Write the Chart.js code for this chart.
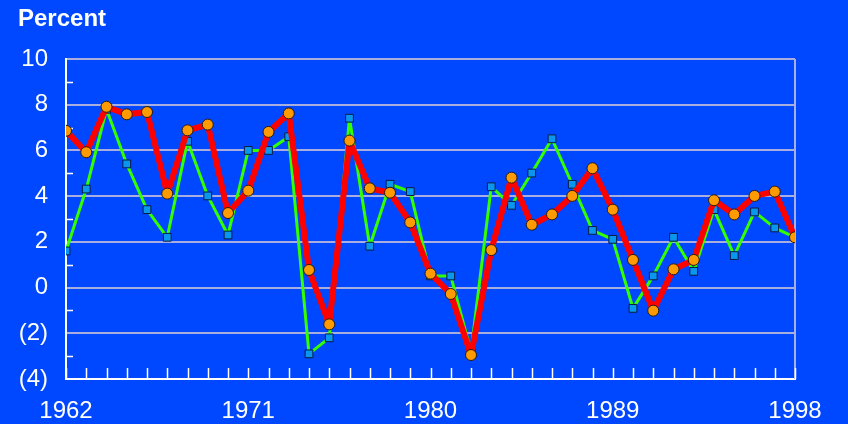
<!DOCTYPE html>
<html>
<head>
<meta charset="utf-8">
<script src="https://cdn.jsdelivr.net/npm/chart.js@4.4.1/dist/chart.umd.min.js"></script>
<style>
    html, body { margin: 0; padding: 0; background: #0048ff; }
    #wrap { position: relative; width: 848px; height: 424px; }
    #unit { position: absolute; left: 18px; top: 4px; color: #fff; font: bold 24px 'Liberation Sans', Arial, sans-serif; }
</style>
</head>
<body>
<div id="wrap">
    <div id="unit">Percent</div>
    <canvas id="chart" width="848" height="424"></canvas>
</div>
<script>
const years = [];
for (let y = 1962; y <= 1998; y++) years.push(y);

const yearLabels = [1962, 1971, 1980, 1989, 1998];

const redSeries = [6.86, 5.92, 7.91, 7.58, 7.68, 4.11, 6.88, 7.13, 3.26, 4.24, 6.81, 7.62, 0.77,
    -1.61, 6.43, 4.34, 4.15, 2.85, 0.61, -0.28, -2.95, 1.64, 4.81, 2.75, 3.2,
    4.01, 5.22, 3.41, 1.21, -1.01, 0.80, 1.21, 3.82, 3.2, 4.01, 4.20, 2.20];

const greenSeries = [1.60, 4.31, 7.8, 5.41, 3.41, 2.20, 6.4, 4.01, 2.30, 6.0, 6.0, 6.6, -2.9,
    -2.2, 7.41, 1.81, 4.52, 4.2, 0.51, 0.51, -2.8, 4.41, 3.6, 5.01, 6.51,
    4.52, 2.5, 2.11, -0.91, 0.51, 2.2, 0.71, 3.41, 1.4, 3.31, 2.61, 2.2];

const FONT = { family: "'Liberation Sans', Arial, sans-serif", size: 24 };
const GRID = '#a8aee0';

// short inward tick marks + top/right frame
const frame = {
    id: 'frame',
    beforeDatasetsDraw(chart) {
        const { ctx, chartArea: a, scales: { x, y } } = chart;
        ctx.save();
        ctx.strokeStyle = GRID;
        ctx.lineWidth = 2;
        ctx.beginPath();
        ctx.moveTo(a.right, a.top);
        ctx.lineTo(a.right, a.bottom);
        ctx.stroke();
        ctx.strokeStyle = '#ffffff';
        ctx.lineWidth = 1.5;
        ctx.beginPath();
        years.forEach((yr) => {
            const px = Math.round(x.getPixelForValue(yr)) + 0.5;
            ctx.moveTo(px, a.bottom);
            ctx.lineTo(px, a.bottom - 11);
        });
        for (let v = -3; v < 10; v += 2) {
            const py = Math.round(y.getPixelForValue(v)) + 0.5;
            ctx.moveTo(a.left, py);
            ctx.lineTo(a.left + 7, py);
        }
        ctx.stroke();
        ctx.restore();
    },
};

new Chart(document.getElementById('chart'), {
    type: 'line',
    data: {
        datasets: [
            {
                data: years.map((yr, i) => ({ x: yr, y: greenSeries[i] })),
                borderColor: '#33ff00',
                borderWidth: 3,
                borderJoinStyle: 'round',
                pointStyle: 'rect',
                pointRadius: 5.5,
                pointBackgroundColor: '#0a96ee',
                pointBorderColor: '#0a1a40',
                pointBorderWidth: 1,
                tension: 0,
                order: 2,
            },
            {
                data: years.map((yr, i) => ({ x: yr, y: redSeries[i] })),
                borderColor: '#ff0000',
                borderWidth: 6,
                borderJoinStyle: 'round',
                pointStyle: 'circle',
                pointRadius: 5.5,
                pointBackgroundColor: '#ff9a00',
                pointBorderColor: '#2a1a10',
                pointBorderWidth: 1,
                tension: 0,
                order: 1,
            },
        ],
    },
    options: {
        responsive: false,
        animation: false,
        layout: { padding: { top: 59, right: 53, left: 0, bottom: 0 } },
        plugins: { legend: { display: false }, tooltip: { enabled: false } },
        scales: {
            x: {
                type: 'linear',
                min: 1962,
                max: 1998,
                afterFit: (s) => { s.height = 45; },
                afterBuildTicks: (s) => { s.ticks = yearLabels.map((v) => ({ value: v })); },
                ticks: {
                    color: '#ffffff',
                    font: FONT,
                    padding: 18,
                    maxRotation: 0,
                    autoSkip: false,
                    callback: (v) => String(v),
                },
                grid: { display: false, drawTicks: false },
                border: { display: true, color: '#ffffff', width: 2 },
            },
            y: {
                min: -4,
                max: 10,
                afterFit: (s) => { s.width = 66; },
                ticks: {
                    stepSize: 2,
                    color: '#ffffff',
                    font: FONT,
                    padding: 18,
                    callback: (v) => (v < 0 ? '(' + Math.abs(v) + ')' : String(v)),
                },
                grid: { color: GRID, lineWidth: 2, drawTicks: false },
                border: { display: true, color: '#ffffff', width: 2 },
            },
        },
    },
    plugins: [frame],
});
</script>
</body>
</html>
